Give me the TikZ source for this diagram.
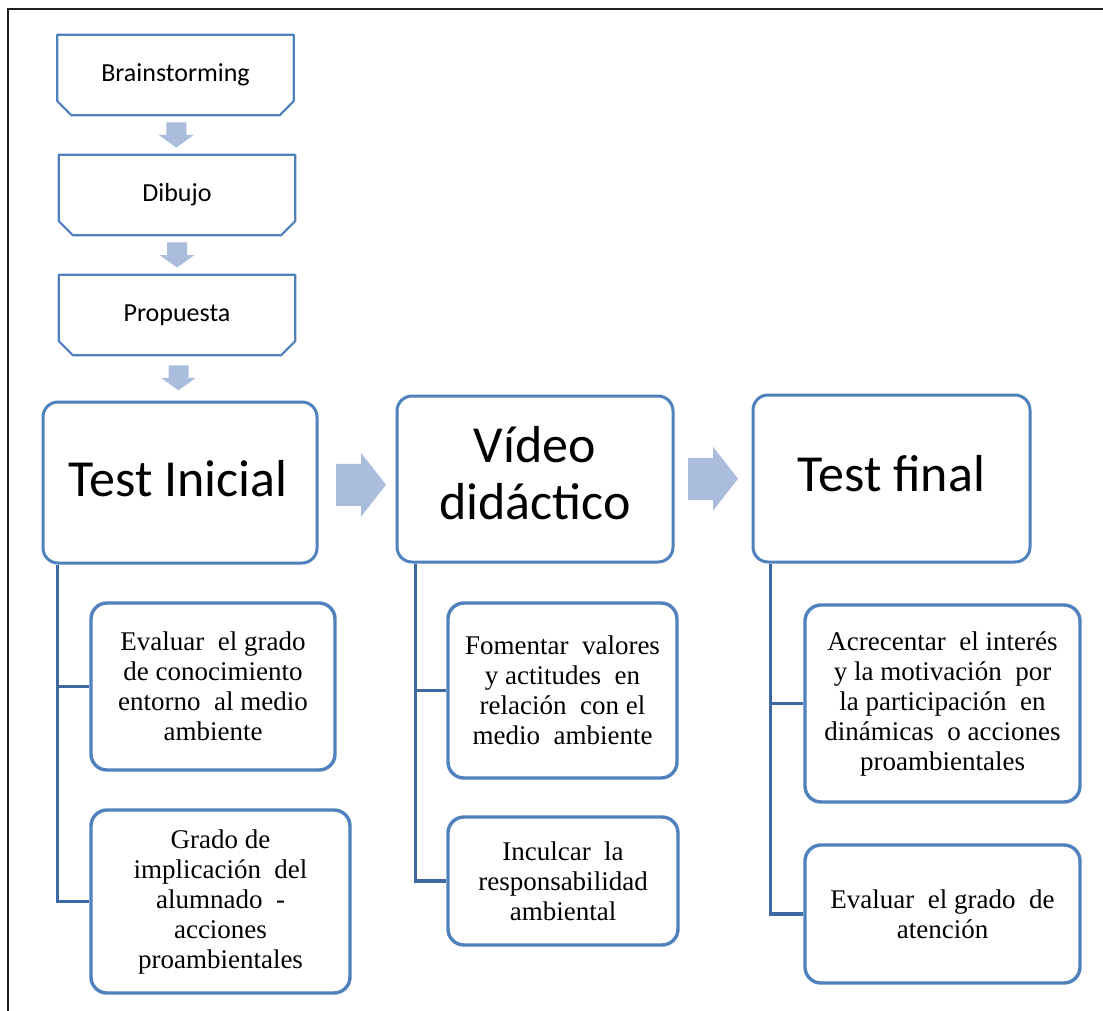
\documentclass[tikz,border=0pt]{standalone}
\usepackage{fontspec}
\newfontfamily\calib{Carlito}
\newfontfamily\timesf{Liberation Serif}
\usetikzlibrary{calc}
\definecolor{boxblue}{RGB}{79,129,189}
\definecolor{treeblue}{RGB}{62,104,160}
\definecolor{arrowfill}{RGB}{170,189,220}
\definecolor{framegray}{RGB}{30,30,30}
\tikzset{
  topbox/.style={minimum width=236pt, minimum height=80pt, inner sep=0pt,
    font=\calib\fontsize{26}{30}\selectfont},
  topline/.style={draw=boxblue, line width=2.2pt, line join=round},
  bigbox/.style={draw=boxblue, line width=3pt, rounded corners=15pt, inner sep=0pt},
  bigtext/.style={align=center, inner sep=0pt, font=\calib\fontsize{52}{57}\selectfont},
  subbox/.style={draw=boxblue, line width=3.4pt, rounded corners=16pt, inner sep=0pt,
    align=center, font=\timesf\fontsize{27}{30}\selectfont},
  tree/.style={draw=treeblue, line width=3.6pt},
  darr/.pic={\fill[arrowfill] (-10,-12.5) -- (10,-12.5) -- (10,0) -- (17.5,0)
     -- (0,12.5) -- (-17.5,0) -- (-10,0) -- cycle;},
  rarr/.pic={\fill[arrowfill] (-25,-21) -- (0,-21) -- (0,-32) -- (25,0)
     -- (0,32) -- (0,21) -- (-25,21) -- cycle;}
}
\begin{document}
\begin{tikzpicture}[x=1pt,y=-1pt]
\useasboundingbox (0,0) rectangle (1103,1011);
\fill[white] (0,0) rectangle (1103,1011);
% outer frame (clipped)
\draw[framegray, line width=2pt] (8,1011) -- (8,9) -- (1103,9);

% top flow
\node[topbox] (b1) at (175.5,75) {Brainstorming};
\node[topbox] (b2) at (177,195) {Dibujo};
\node[topbox] (b3) at (177,315) {Propuesta};
\foreach \n in {b1,b2,b3}{
  \draw[topline] (\n.north west) -- (\n.north east) -- ([yshift=14pt]\n.south east)
    -- ([xshift=-14pt]\n.south east) -- ([xshift=14pt]\n.south west)
    -- ([yshift=14pt]\n.south west) -- cycle;
}

% main boxes
\node[bigbox, minimum width=274pt, minimum height=161pt] (ti) at (180,482.5) {};
\node[bigtext] (tit) at ($(ti.center)+(-2,-4)$) {Test Inicial};
\node[bigbox, minimum width=276pt, minimum height=166pt] (vd) at (535,479) {};
\node[bigtext] (vdt) at ($(vd.center)+(0,-6)$) {Vídeo\\didáctico};
\node[bigbox, minimum width=277pt, minimum height=167pt] (tf) at (891.5,478.5) {};
\node[bigtext] (tft) at ($(tf.center)+(0,-5)$) {Test final};

% block arrows between boxes
\coordinate (a1) at ($(b1.south)!0.5!(b2.north)$);
\coordinate (a2) at ($(b2.south)!0.5!(b3.north)$);
\coordinate (a3) at ($(b3.south)!0.5!(ti.north)$);
\coordinate (r1) at ($($(ti.east)!0.5!(vd.west)$)+(4,4)$);
\coordinate (r2) at ($(vd.east)!0.5!(tf.west)$);
\pic at (a1) {darr};
\pic at (a2) {darr};
\pic at (a3) {darr};
\pic at (r1) {rarr};
\pic at (r2) {rarr};

% sub boxes
\node[subbox, minimum width=244pt, minimum height=167pt] (s1) at (213,686.5)
  {Evaluar \ el grado\\de conocimiento\\entorno \ al medio\\ambiente};
\node[subbox, minimum width=259pt, minimum height=183pt] (s2) at (220.5,901.5)
  {Grado de\\implicación \ del\\alumnado \ -\\acciones\\proambientales};
\node[subbox, minimum width=229pt, minimum height=175pt] (s3) at (562.5,690.5)
  {Fomentar \ valores\\y actitudes \ en\\relación \ con el\\medio \ ambiente};
\node[subbox, minimum width=230pt, minimum height=128pt] (s4) at (563,881)
  {Inculcar \ la\\responsabilidad\\ambiental};
\node[subbox, minimum width=275pt, minimum height=197pt] (s5) at (942.5,703.5)
  {Acrecentar \ el interés\\y la motivación \ por\\la participación \ en\\dinámicas \ o acciones\\proambientales};
\node[subbox, minimum width=275pt, minimum height=138pt] (s6) at (942.5,914)
  {Evaluar \ el grado \ de\\atención};

% tree connectors
\draw[tree] ([xshift=16pt]ti.south west) |- (s1.west);
\draw[tree] ([xshift=16pt]ti.south west) |- (s2.west);
\draw[tree] ([xshift=20pt]vd.south west) |- (s3.west);
\draw[tree] ([xshift=20pt]vd.south west) |- (s4.west);
\draw[tree] ([xshift=19pt]tf.south west) |- (s5.west);
\draw[tree] ([xshift=19pt]tf.south west) |- (s6.west);
\end{tikzpicture}
\end{document}
